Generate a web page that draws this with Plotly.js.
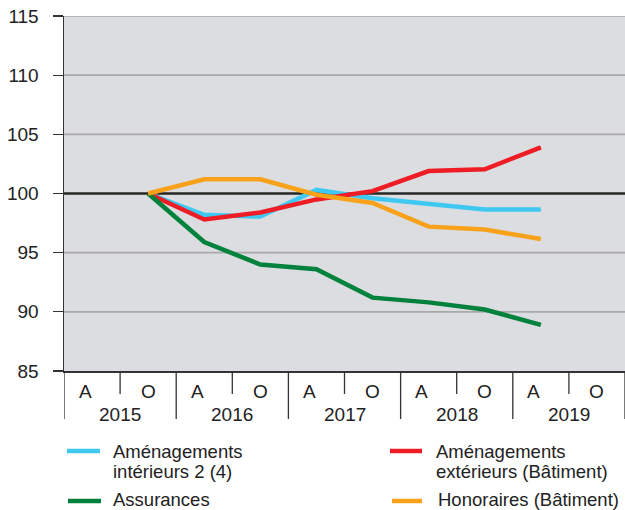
<!DOCTYPE html>
<html>
<head>
<meta charset="utf-8">
<script src="https://cdn.plot.ly/plotly-3.0.1.min.js"></script>
<style>html,body{margin:0;padding:0;background:#fff;}#chart{width:625px;height:510px;}</style>
</head>
<body>
<div id="chart"></div>
<script>
// ---- data ----
var years = ["2015", "2016", "2017", "2018", "2019"];
var periodLabels = ["A","O","A","O","A","O","A","O","A","O"];
var seriesNames = [["Aménagements", "intérieurs 2 (4)"], ["Aménagements", "extérieurs (Bâtiment)"], ["Assurances"], ["Honoraires (Bâtiment)"]];
var seriesColors = ["#3ec8f2", "#ee1d25", "#00823c", "#f8a21c"];
var yTicks = [85, 90, 95, 100, 105, 110, 115];
var baseValue = 100;
// values from O 2015 (index 1) to A 2019 (index 8)
var startIndex = 1;
var interieurs = [100, 98.2, 98.05, 100.3, 99.6, 99.1, 98.65, 98.65];
var exterieurs = [100, 97.8, 98.4, 99.5, 100.2, 101.9, 102.05, 103.9];
var assurances = [100, 95.9, 94.0, 93.6, 91.2, 90.8, 90.2, 88.9];
var honoraires = [100, 101.2, 101.2, 99.9, 99.2, 97.2, 96.95, 96.15];
var allSeries = [interieurs, exterieurs, assurances, honoraires];

var font = "Liberation Sans, Arial, sans-serif";
var traces = allSeries.map(function(vals, i){
  return {
    x: vals.map(function(v, j){ return startIndex + j; }),
    y: vals,
    mode: "lines",
    line: {color: seriesColors[i], width: 4.5},
    name: seriesNames[i].join(" "),
    showlegend: false,
    hoverinfo: "skip"
  };
});

var W = 625, H = 510, ml = 64, mt = 16, plotW = 561, plotH = 355;
function py(pixBelow){ return -pixBelow / plotH; }
function pyAbs(yPix){ return 1 - (yPix - mt) / plotH; }
function pxAbs(xPix){ return (xPix - ml) / plotW; }

var shapes = [];
// gridlines (except base line) and base line at 100
yTicks.forEach(function(v){
  if (v === yTicks[0]) return;
  var isBase = (v === baseValue);
  shapes.push({type:"line", xref:"paper", yref:"y", x0:0, x1:1, y0:v, y1:v,
    line:{color: isBase ? "#262626" : "#a8a8a8", width: isBase ? 2.5 : 1.6}, layer:"between"});
});
// dividers
for (var k = 0; k <= periodLabels.length; k++) {
  var longLine = (k % 2 === 0);
  shapes.push({type:"line", xref:"x", yref:"paper", x0:k-0.5, x1:k-0.5,
    y0:0, y1: longLine ? py(48) : py(23),
    line:{color:"#333", width:1.3}});
}
var annotations = [];
periodLabels.forEach(function(lb, i){
  annotations.push({xref:"x", yref:"paper", x: i, y: py(20), text: lb,
    xshift: lb === "A" ? -7 : 0,
    showarrow:false, xanchor:"center", yanchor:"middle",
    font:{family:font, size:19, color:"#222"}});
});
years.forEach(function(yr, i){
  annotations.push({xref:"x", yref:"paper", x: 2*i + 0.5, y: py(43), text: yr,
    showarrow:false, xanchor:"center", yanchor:"middle",
    font:{family:font, size:19, color:"#222"}});
});
// legend (2 columns)
var legPos = [
  {lx0:67, lx1:100, ly:451, tx:112},
  {lx0:390, lx1:422, ly:451, tx:435},
  {lx0:68, lx1:101, ly:501, tx:112},
  {lx0:392, lx1:422, ly:501, tx:437}
];
seriesNames.forEach(function(lines, i){
  var p = legPos[i];
  shapes.push({type:"line", xref:"paper", yref:"paper",
    x0:pxAbs(p.lx0), x1:pxAbs(p.lx1),
    y0:pyAbs(p.ly), y1:pyAbs(p.ly),
    line:{color:seriesColors[i], width:4.5}});
  lines.forEach(function(txt, j){
    var yc = (i >= 2) ? 499.5 : p.ly + j * 20.5;
    annotations.push({xref:"paper", yref:"paper", x:pxAbs(p.tx),
      y:pyAbs(yc), text:txt, showarrow:false, xanchor:"left", yanchor:"middle",
      borderpad:0, font:{family:font, size:18.5, color:"#222"}});
  });
});

var layout = {
  width: W, height: H,
  margin: {l: ml, r: 0, t: mt, b: 139},
  paper_bgcolor: "#ffffff",
  plot_bgcolor: "#dcdde0",
  showlegend: false,
  xaxis: {
    range: [-0.5, 9.5],
    showticklabels: false,
    ticks: "",
    showgrid: false,
    zeroline: false,
    showline: true, linecolor: "#333", linewidth: 1.5,
    fixedrange: true
  },
  yaxis: {
    range: [85, 115],
    tickmode: "array", tickvals: yTicks,
    ticks: "outside", ticklen: 10, tickcolor: "#333", tickwidth: 1.3,
    showgrid: false,
    zeroline: false,
    showline: true, linecolor: "#333", linewidth: 1.5,
    ticklabelstandoff: 10,
    tickfont: {family: font, size: 19, color: "#222"},
    fixedrange: true
  },
  shapes: shapes,
  annotations: annotations
};

Plotly.newPlot("chart", traces, layout, {staticPlot: true, displayModeBar: false});
</script>
</body>
</html>
